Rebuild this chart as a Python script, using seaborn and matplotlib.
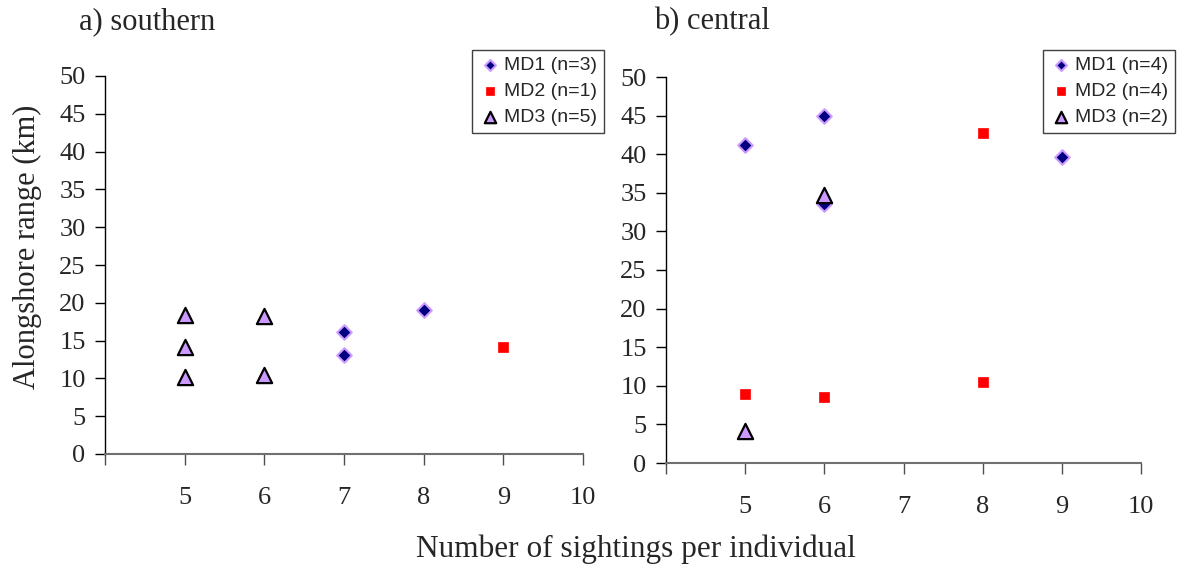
import matplotlib
matplotlib.use("Agg")
import matplotlib.pyplot as plt
import seaborn as sns
import pandas as pd

# ---------------- data ----------------
# a) southern
south_md1_x = [7, 7, 8]
south_md1_y = [16.2, 13.1, 19.1]
south_md2_x = [9]
south_md2_y = [14.1]
south_md3_x = [5, 5, 5, 6, 6]
south_md3_y = [18.4, 14.2, 10.2, 18.2, 10.4]

# b) central
central_md1_x = [5, 6, 6, 9]
central_md1_y = [41.2, 45.0, 33.6, 39.6]
central_md2_x = [5, 6, 8, 8]
central_md2_y = [8.9, 8.5, 42.7, 10.5]
central_md3_x = [5, 6]
central_md3_y = [4.2, 34.7]

south_labels = ["MD1 (n=3)", "MD2 (n=1)", "MD3 (n=5)"]
central_labels = ["MD1 (n=4)", "MD2 (n=4)", "MD3 (n=2)"]
panel_titles = ["a) southern", "b) central"]
x_ticks = [4, 5, 6, 7, 8, 9, 10]
x_ticklabels = ["", "5", "6", "7", "8", "9", "10"]
y_ticks = [0, 5, 10, 15, 20, 25, 30, 35, 40, 45, 50]
x_label = "Number of sightings per individual"
y_label = "Alongshore range (km)"

# ---------------- style ----------------
sns.set_theme(style="white")
plt.rcParams["font.family"] = ["Liberation Serif", "DejaVu Serif"]

SERIF = "Liberation Serif"
SANS = "Liberation Sans"
LAVENDER = "#CC99FF"
NAVY = "#000080"
RED = "#FF0000"

fig = plt.figure(figsize=(11.95, 5.68), dpi=100)

ax_a = fig.add_axes([105 / 1195, 1 - 454 / 568, (583 - 105) / 1195, (454 - 76) / 568])
ax_b = fig.add_axes([666 / 1195, 1 - 463 / 568, (1141 - 666) / 1195, (463 - 77) / 568])


def draw_panel(ax, md1, md2, md3, labels):
    sns.scatterplot(x=md1[0], y=md1[1], ax=ax, marker="D", s=55,
                    color=NAVY, edgecolor=LAVENDER, linewidth=1.5,
                    label=labels[0], zorder=3)
    sns.scatterplot(x=md2[0], y=md2[1], ax=ax, marker="s", s=55,
                    color=RED, edgecolor=RED, linewidth=0.5,
                    label=labels[1], zorder=3)
    sns.scatterplot(x=md3[0], y=md3[1], ax=ax, marker="^", s=120,
                    color=LAVENDER, edgecolor="black", linewidth=1.6,
                    label=labels[2], zorder=4)
    ax.set_xlim(4, 10)
    ax.set_ylim(0, 50)
    ax.set_xticks(x_ticks)
    ax.set_xticklabels(x_ticklabels)
    ax.set_yticks(y_ticks)
    ax.set_xlabel("")
    ax.set_ylabel("")
    for side in ["top", "right"]:
        ax.spines[side].set_visible(False)
    ax.spines["left"].set_color("black")
    ax.spines["left"].set_linewidth(1.0)
    ax.spines["bottom"].set_color("#707070")
    ax.spines["bottom"].set_linewidth(1.5)
    ax.tick_params(axis="x", direction="out", length=8, width=1.0, color="#505050",
                   pad=16, labelsize=19, bottom=True)
    ax.tick_params(axis="y", direction="out", length=7, width=1.0, color="black",
                   pad=7, labelsize=19, left=True)
    for lab in ax.get_xticklabels() + ax.get_yticklabels():
        lab.set_fontfamily(SERIF)
    ax.set_facecolor("white")
    ax.grid(False)


draw_panel(ax_a, (south_md1_x, south_md1_y), (south_md2_x, south_md2_y),
           (south_md3_x, south_md3_y), south_labels)
draw_panel(ax_b, (central_md1_x, central_md1_y), (central_md2_x, central_md2_y),
           (central_md3_x, central_md3_y), central_labels)

# legends
for ax, x0 in [(ax_a, 472), (ax_b, 1043)]:
    handles, labels = ax.get_legend_handles_labels()
    if ax.legend_:
        ax.legend_.remove()
    leg = fig.legend(handles, labels,
                     loc="upper left",
                     bbox_to_anchor=(x0 / 1195, 1 - 50 / 568),
                     bbox_transform=fig.transFigure,
                     prop={"family": SANS, "size": 14},
                     frameon=True, fancybox=False, shadow=False,
                     borderpad=0.35, labelspacing=0.42, handletextpad=0.1,
                     handlelength=1.2, borderaxespad=0.0, markerscale=0.75)
    leg.get_frame().set_edgecolor("#404040")
    leg.get_frame().set_linewidth(1.0)
    leg.get_frame().set_alpha(1)

# titles
fig.text(147 / 1195, 1 - 22 / 568, panel_titles[0], ha="center", va="center",
         fontsize=22, family=SERIF)
fig.text(712 / 1195, 1 - 22 / 568, panel_titles[1], ha="center", va="center",
         fontsize=22, family=SERIF)

# axis labels
fig.text(636 / 1195, 1 - 549 / 568, x_label, ha="center", va="center",
         fontsize=22.5, family=SERIF)
fig.text(27 / 1195, 1 - 247 / 568, y_label, ha="center", va="center",
         rotation=90, fontsize=22, family=SERIF)

fig.savefig("out.png", dpi=100, facecolor="white")
